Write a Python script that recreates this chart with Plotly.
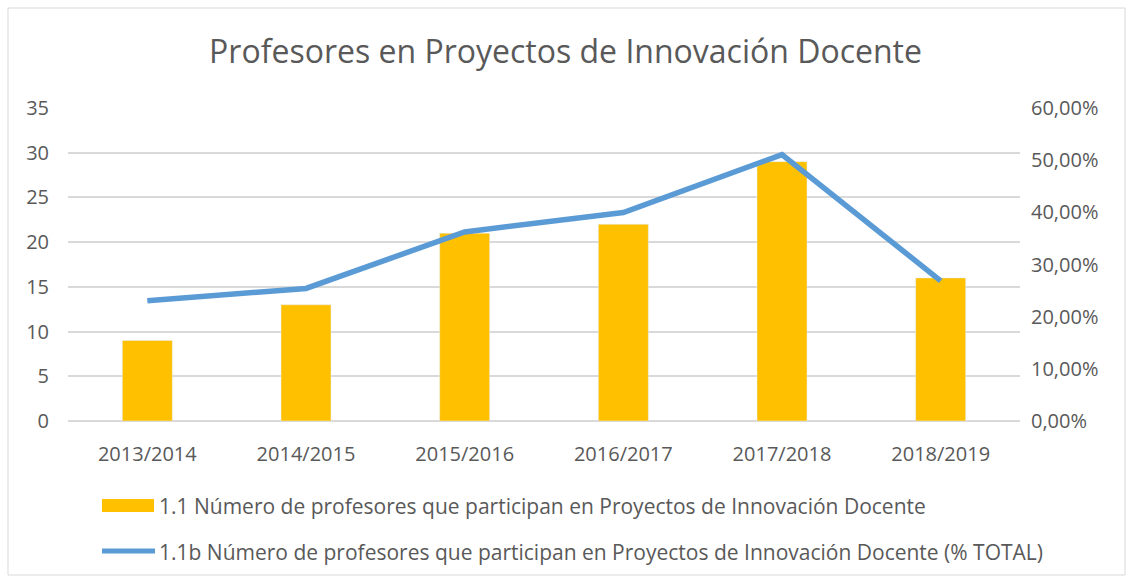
import plotly.graph_objects as go

categories = ["2013/2014", "2014/2015", "2015/2016", "2016/2017", "2017/2018", "2018/2019"]
profesores = [9, 13, 21, 22, 29, 16]
porcentaje = [0.2304, 0.2541, 0.3625, 0.3997, 0.5107, 0.2687]
left_ticks = [0, 5, 10, 15, 20, 25, 30, 35]
right_ticks = [0, 0.1, 0.2, 0.3, 0.4, 0.5, 0.6]
right_labels = ["0,00%", "10,00%", "20,00%", "30,00%", "40,00%", "50,00%", "60,00%"]
title = "Profesores en Proyectos de Innovación Docente"
name_bar = "1.1 Número de profesores que participan en Proyectos de Innovación Docente"
name_line = "1.1b Número de profesores que participan en Proyectos de Innovación Docente (% TOTAL)"

FONT = "Open Sans"
TXT = "#595959"
W, H = 1131, 579
L, R, T, B = 68, 111, 108, 158
pw, ph = W - L - R, H - T - B

def px(x):
    return (x - L) / pw

def py(y):
    return (H - B - y) / ph

fig = go.Figure()
fig.add_trace(go.Bar(x=categories, y=profesores, name=name_bar, marker_color="#FFC000",
                     width=0.315, yaxis="y", showlegend=False))
fig.add_trace(go.Scatter(x=categories, y=porcentaje, name=name_line, mode="lines",
                         line=dict(color="#5B9BD5", width=5.5), yaxis="y2", showlegend=False))

shapes = [
    dict(type="rect", xref="paper", yref="paper", x0=px(8), x1=px(1125), y0=py(575), y1=py(8),
         line=dict(color="#D9D9D9", width=1), fillcolor="rgba(0,0,0,0)", layer="below"),
    dict(type="rect", xref="paper", yref="paper", x0=px(102), x1=px(154), y0=py(512), y1=py(499),
         line=dict(width=0), fillcolor="#FFC000"),
    dict(type="line", xref="paper", yref="paper", x0=px(102), x1=px(155), y0=py(551), y1=py(551),
         line=dict(color="#5B9BD5", width=5)),
]
annotations = [
    dict(text=name_bar, xref="paper", yref="paper", x=px(157), y=py(506), xanchor="left",
         yanchor="middle", showarrow=False, font=dict(family=FONT, size=21, color=TXT)),
    dict(text=name_line, xref="paper", yref="paper", x=px(157), y=py(552), xanchor="left",
         yanchor="middle", showarrow=False, font=dict(family=FONT, size=21, color=TXT)),
]

fig.update_layout(
    width=W, height=H,
    margin=dict(l=L, r=R, t=T, b=B),
    paper_bgcolor="white", plot_bgcolor="white",
    title=dict(text=title, x=0.5, xref="container", y=1 - 52 / H, yanchor="middle",
               font=dict(family=FONT, size=32, color=TXT)),
    font=dict(family=FONT, color=TXT),
    xaxis=dict(showgrid=False, showline=False, ticks="", tickfont=dict(size=20, color=TXT),
               ticklabelstandoff=19),
    yaxis=dict(range=[0, 35], tickvals=left_ticks, showgrid=True, gridcolor="#D9D9D9",
               gridwidth=1.5, zeroline=True, zerolinecolor="#D9D9D9", zerolinewidth=1.5,
               tickfont=dict(size=20, color=TXT), ticklabelstandoff=18),
    yaxis2=dict(range=[0, 0.6], tickvals=right_ticks, ticktext=right_labels, overlaying="y",
                side="right", showgrid=False, zeroline=False,
                tickfont=dict(size=20, color=TXT), ticklabelstandoff=10),
    shapes=shapes, annotations=annotations, bargap=0.685,
)

fig.write_html("out.html", config={"displayModeBar": False},
               post_script="document.body.style.margin='0';")
